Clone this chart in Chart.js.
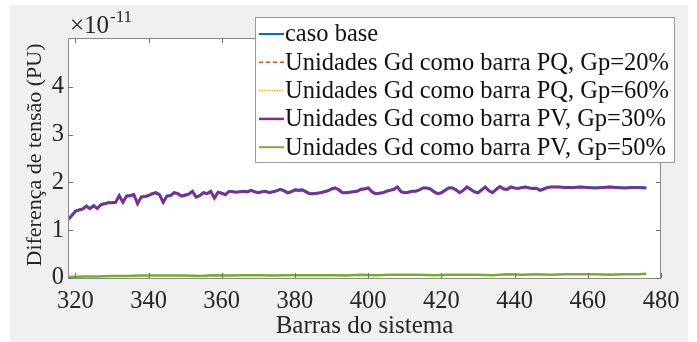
<!DOCTYPE html>
<html><head><meta charset="utf-8">
<script src="https://cdn.jsdelivr.net/npm/chart.js@4.4.1/dist/chart.umd.min.js"></script>
<style>html,body{margin:0;padding:0;background:#fff;}canvas{display:block;}</style>
</head><body>
<canvas id="c" width="697" height="342"></canvas>
<script>
// Barras (x) and values (×1e-11 PU)
const barras = [318,319,320,321,322,323,324,325,326,327,328,329,330,331,332,333,334,335,336,337,338,339,340,341,342,343,344,345,346,347,348,349,350,351,352,353,354,355,356,357,358,359,360,361,362,363,364,365,366,367,368,369,370,371,372,373,374,375,376,377,378,379,380,381,382,383,384,385,386,387,388,389,390,391,392,393,394,395,396,397,398,399,400,401,402,403,404,405,406,407,408,409,410,411,412,413,414,415,416,417,418,419,420,421,422,423,424,425,426,427,428,429,430,431,432,433,434,435,436,437,438,439,440,441,442,443,444,445,446,447,448,449,450,452,454,456,458,460,462,464,466,468,470,472,474,476];
const pv30 = [1.22,1.30,1.39,1.42,1.44,1.50,1.45,1.51,1.45,1.53,1.55,1.57,1.57,1.58,1.72,1.58,1.71,1.72,1.74,1.55,1.69,1.70,1.72,1.76,1.78,1.74,1.58,1.71,1.72,1.78,1.76,1.71,1.73,1.75,1.81,1.69,1.72,1.78,1.76,1.81,1.67,1.79,1.77,1.74,1.81,1.80,1.79,1.80,1.81,1.80,1.83,1.80,1.78,1.80,1.81,1.78,1.80,1.82,1.85,1.82,1.78,1.80,1.84,1.83,1.84,1.80,1.76,1.76,1.77,1.78,1.80,1.82,1.86,1.88,1.84,1.78,1.78,1.79,1.80,1.81,1.85,1.86,1.88,1.80,1.76,1.77,1.78,1.81,1.83,1.85,1.90,1.80,1.78,1.79,1.81,1.81,1.84,1.88,1.88,1.86,1.80,1.76,1.78,1.83,1.88,1.88,1.84,1.78,1.83,1.90,1.85,1.80,1.78,1.84,1.90,1.82,1.78,1.85,1.91,1.86,1.85,1.90,1.88,1.87,1.89,1.90,1.88,1.87,1.87,1.83,1.86,1.89,1.90,1.90,1.89,1.89,1.90,1.89,1.88,1.89,1.90,1.89,1.88,1.89,1.89,1.88];
const casoBase = [1.23,1.31,1.40,1.43,1.45,1.51,1.46,1.52,1.46,1.54,1.56,1.58,1.58,1.59,1.73,1.59,1.72,1.73,1.75,1.56,1.70,1.71,1.73,1.77,1.79,1.75,1.59,1.72,1.73,1.79,1.77,1.72,1.74,1.76,1.82,1.70,1.73,1.79,1.77,1.82,1.68,1.80,1.78,1.75,1.82,1.81,1.80,1.81,1.82,1.81,1.84,1.81,1.79,1.81,1.82,1.79,1.81,1.83,1.86,1.83,1.79,1.81,1.85,1.84,1.85,1.81,1.77,1.77,1.78,1.79,1.81,1.83,1.87,1.89,1.85,1.79,1.79,1.80,1.81,1.82,1.86,1.87,1.89,1.81,1.77,1.78,1.79,1.82,1.84,1.86,1.91,1.81,1.79,1.80,1.82,1.82,1.85,1.89,1.89,1.87,1.81,1.77,1.79,1.84,1.89,1.89,1.85,1.79,1.84,1.91,1.86,1.81,1.79,1.85,1.91,1.83,1.79,1.86,1.92,1.87,1.86,1.91,1.89,1.88,1.90,1.91,1.89,1.88,1.88,1.84,1.87,1.90,1.91,1.91,1.90,1.90,1.91,1.90,1.89,1.90,1.91,1.90,1.89,1.90,1.90,1.89];
const barrasGp = [318,322,326,330,334,338,342,346,350,354,358,362,366,370,374,378,382,386,390,394,398,402,406,410,414,418,422,426,430,434,438,442,446,450,454,458,462,466,470,474,476];
const pq20 = [0.02,0.03,0.03,0.04,0.04,0.05,0.05,0.05,0.05,0.05,0.06,0.05,0.06,0.06,0.05,0.06,0.06,0.06,0.06,0.06,0.07,0.06,0.07,0.07,0.07,0.06,0.07,0.07,0.07,0.07,0.08,0.07,0.08,0.07,0.08,0.08,0.08,0.08,0.08,0.08,0.09];
const pq60 = [0.02,0.03,0.03,0.04,0.04,0.05,0.05,0.05,0.05,0.05,0.06,0.05,0.06,0.06,0.05,0.06,0.06,0.06,0.06,0.06,0.07,0.06,0.07,0.07,0.07,0.06,0.07,0.07,0.07,0.07,0.08,0.07,0.08,0.07,0.08,0.08,0.08,0.08,0.08,0.08,0.09];
const pv50 = [0.02,0.03,0.03,0.04,0.04,0.05,0.05,0.05,0.05,0.04,0.06,0.05,0.06,0.06,0.05,0.06,0.06,0.06,0.06,0.05,0.07,0.06,0.07,0.07,0.07,0.06,0.07,0.07,0.07,0.06,0.08,0.07,0.08,0.07,0.08,0.08,0.08,0.07,0.08,0.08,0.09];
const xTicks = [320,340,360,380,400,420,440,460,480];
const yTicks = [0,1,2,3,4];
const labels = ['caso base','Unidades Gd como barra PQ, Gp=20%','Unidades Gd como barra PQ, Gp=60%','Unidades Gd como barra PV, Gp=30%','Unidades Gd como barra PV, Gp=50%'];
const xTitle = 'Barras do sistema';
const yTitle = 'Diferença de tensão (PU)';

const pts = (xs, ys) => xs.map((x, i) => ({x: x, y: ys[i]}));
const FONT = "'Liberation Serif', 'Times New Roman', serif";

const bgPlugin = {
  id: 'bg',
  beforeDraw(chart) {
    const {ctx, chartArea: a} = chart;
    ctx.save();
    ctx.fillStyle = '#ffffff';
    ctx.fillRect(0, 0, chart.width, chart.height);
    ctx.fillStyle = '#f0f0f0';
    ctx.fillRect(10, 5, 678, 337);
    ctx.fillStyle = '#ffffff';
    ctx.fillRect(a.left, a.top, a.right - a.left, a.bottom - a.top);
    ctx.restore();
  },
  afterDraw(chart) {
    const {ctx, chartArea: a, scales} = chart;
    ctx.save();
    ctx.strokeStyle = '#8a8a8a';
    ctx.lineWidth = 1;
    ctx.strokeRect(a.left + 0.5, a.top + 0.5, a.right - a.left - 1, a.bottom - a.top);
    ctx.strokeStyle = '#707070';
    const L = 5;
    ctx.beginPath();
    xTicks.forEach(v => {
      const px = Math.round(scales.x.getPixelForValue(v)) + 0.5;
      ctx.moveTo(px, a.bottom); ctx.lineTo(px, a.bottom - L);
      ctx.moveTo(px, a.top); ctx.lineTo(px, a.top + L);
    });
    yTicks.forEach(v => {
      const py = Math.round(scales.y.getPixelForValue(v)) + 0.5;
      ctx.moveTo(a.left, py); ctx.lineTo(a.left + L, py);
      ctx.moveTo(a.right, py); ctx.lineTo(a.right - L, py);
    });
    ctx.stroke();
    ctx.fillStyle = '#262626';
    // axis titles
    ctx.textAlign = 'center';
    ctx.textBaseline = 'middle';
    ctx.font = '25px ' + FONT;
    ctx.fillText(xTitle, (a.left + a.right) / 2, 326);
    ctx.save();
    ctx.translate(35, 155);
    ctx.rotate(-Math.PI / 2);
    ctx.font = '22px ' + FONT;
    ctx.fillText(yTitle, 0, 0);
    ctx.restore();
    // multiplier
    ctx.textAlign = 'left';
    ctx.textBaseline = 'alphabetic';
    ctx.font = '25px ' + FONT;
    ctx.fillText('\u00d710', 70, 33);
    ctx.font = '17px ' + FONT;
    ctx.fillText('-11', 110, 22);
    // legend
    const lx = 255, ly = 17, lw = 419, lh = 145;
    ctx.fillStyle = '#ffffff';
    ctx.fillRect(lx, ly, lw, lh);
    ctx.strokeStyle = '#9a9a9a';
    ctx.lineWidth = 1;
    ctx.strokeRect(lx + 0.5, ly + 0.5, lw, lh);
    ctx.font = '24.5px ' + FONT;
    chart.data.datasets.forEach((ds, i) => {
      const y = 34 + i * 28.3;
      ctx.strokeStyle = ds.borderColor;
      ctx.lineWidth = ds.legendWidth;
      ctx.setLineDash(ds.legendDash || []);
      ctx.beginPath(); ctx.moveTo(259, y); ctx.lineTo(284, y); ctx.stroke();
      ctx.setLineDash([]);
      ctx.fillStyle = '#111';
      ctx.textBaseline = 'middle';
      ctx.fillText(ds.label, 285, y + 1);
    });
    ctx.restore();
  }
};

new Chart(document.getElementById('c'), {
  type: 'line',
  data: {
    datasets: [
      {label: labels[0], order: 4, data: pts(barras, casoBase), borderColor: '#0072BD', borderWidth: 2.5, legendWidth: 2},
      {label: labels[1], order: 3, data: pts(barrasGp, pq20), borderColor: '#D95319', borderWidth: 1, borderDash: [4, 3], legendDash: [4, 3], legendWidth: 1.5},
      {label: labels[2], order: 2, data: pts(barrasGp, pq60), borderColor: '#EDB120', borderWidth: 1, borderDash: [1.5, 1.5], legendDash: [1.5, 1], legendWidth: 1.5},
      {label: labels[3], order: 1, data: pts(barras, pv30), borderColor: '#7E2F8E', borderWidth: 2.8, legendWidth: 2.5},
      {label: labels[4], order: 0, data: pts(barrasGp, pv50), borderColor: '#77AC30', borderWidth: 2.5, legendWidth: 2}
    ]
  },
  options: {
    responsive: false,
    animation: false,
    elements: {point: {radius: 0}, line: {tension: 0}},
    layout: {padding: {left: 0, top: 38, right: 36, bottom: 0}},
    plugins: {legend: {display: false}, tooltip: {enabled: false}},
    scales: {
      x: {
        type: 'linear', min: 318, max: 480,
        afterFit(s) { s.height = 64; },
        afterBuildTicks(s) { s.ticks = xTicks.map(v => ({value: v})); },
        grid: {display: false, drawTicks: false},
        border: {display: false},
        ticks: {font: {family: FONT, size: 24.5}, color: '#262626', padding: 9, maxRotation: 0},
        title: {display: false}
      },
      y: {
        type: 'linear', min: 0, max: 5.02,
        afterFit(s) { s.width = 68; },
        afterBuildTicks(s) { s.ticks = yTicks.map(v => ({value: v})); },
        grid: {display: false, drawTicks: false},
        border: {display: false},
        ticks: {font: {family: FONT, size: 24.5}, color: '#262626', padding: 4},
        title: {display: false}
      }
    }
  },
  plugins: [bgPlugin]
});
</script>
</body></html>
